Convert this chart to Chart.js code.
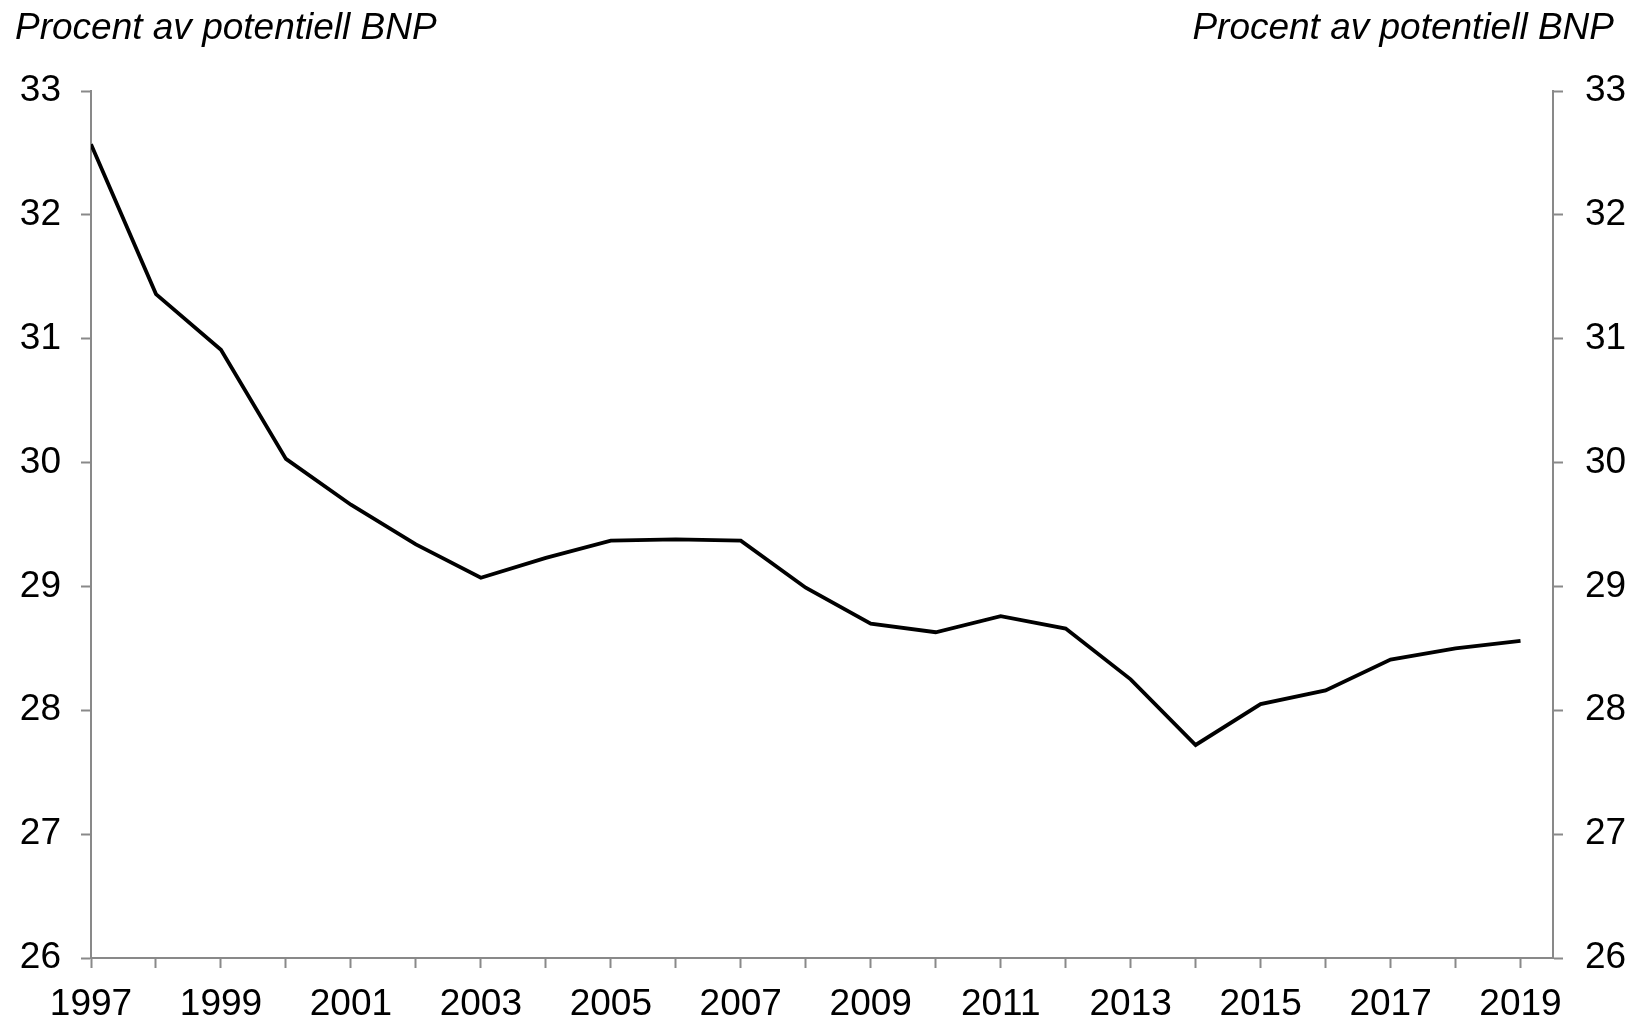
<!DOCTYPE html>
<html>
<head>
<meta charset="utf-8">
<script src="https://cdn.jsdelivr.net/npm/chart.js@4/dist/chart.umd.min.js"></script>
<style>
  html, body { margin: 0; padding: 0; background: #ffffff; }
  #wrap { position: relative; width: 1637px; height: 1021px; }
  canvas { display: block; }
</style>
</head>
<body>
<div id="wrap"><canvas id="c" width="1637" height="1021"></canvas></div>
<script>
const years = [1997, 1998, 1999, 2000, 2001, 2002, 2003, 2004, 2005, 2006, 2007, 2008,
               2009, 2010, 2011, 2012, 2013, 2014, 2015, 2016, 2017, 2018, 2019];
const values = [32.57, 31.36, 30.91, 30.03, 29.66, 29.34, 29.07, 29.23, 29.37, 29.38, 29.37, 28.99,
                28.70, 28.63, 28.76, 28.66, 28.25, 27.72, 28.05, 28.16, 28.41, 28.50, 28.56];
const yTicks = [26, 27, 28, 29, 30, 31, 32, 33];
const axisTitle = "Procent av potentiell BNP";

const AXIS_GRAY = '#898989';
const FONT = '"Liberation Sans", Arial, sans-serif';
const FSIZE = 37;

const titlePlugin = {
  id: 'titles',
  afterDraw(chart) {
    const ctx = chart.ctx;
    ctx.save();
    ctx.fillStyle = '#000';
    ctx.font = 'italic ' + FSIZE + 'px ' + FONT;
    ctx.textBaseline = 'alphabetic';
    ctx.textAlign = 'left';
    ctx.fillText(axisTitle, 15, 39);
    ctx.textAlign = 'right';
    ctx.fillText(axisTitle, 1614, 39);
    ctx.restore();
  }
};

const yAxisCommon = {
  type: 'linear',
  min: yTicks[0],
  max: yTicks[yTicks.length - 1],
  bounds: 'data',
  afterBuildTicks: (s) => { s.ticks = yTicks.map(v => ({ value: v })); },
  grid: { drawOnChartArea: false, drawTicks: true, tickLength: 10, tickColor: AXIS_GRAY, tickWidth: 2 },
  border: { display: true, color: AXIS_GRAY, width: 2 },
  ticks: { color: '#000', font: { family: FONT, size: FSIZE }, padding: 20 }
};

new Chart(document.getElementById('c'), {
  type: 'line',
  data: {
    datasets: [{
      data: years.map((y, i) => ({ x: y, y: values[i] })),
      borderColor: '#000',
      borderWidth: 3.8,
      pointRadius: 0,
      tension: 0,
      fill: false,
      yAxisID: 'y'
    }]
  },
  options: {
    responsive: false,
    animation: false,
    plugins: { legend: { display: false }, tooltip: { enabled: false }, title: { display: false } },
    layout: { padding: { top: 91, left: 0, right: 0, bottom: 0 } },
    scales: {
      x: {
        type: 'linear',
        min: years[0],
        max: years[years.length - 1] + 0.5,
        bounds: 'data',
        afterBuildTicks: (s) => { s.ticks = years.map(v => ({ value: v })); },
        afterFit: (s) => { s.height = 63; },
        grid: { drawOnChartArea: false, drawTicks: true, tickLength: 10, tickColor: AXIS_GRAY, tickWidth: 2 },
        border: { display: true, color: AXIS_GRAY, width: 2 },
        ticks: {
          autoSkip: false, maxRotation: 0, minRotation: 0,
          color: '#000', font: { family: FONT, size: FSIZE }, padding: 15,
          callback: (v) => ((v - years[0]) % 2 === 0 ? String(v) : '')
        }
      },
      y: Object.assign({}, yAxisCommon, {
        position: 'left',
        afterFit: (s) => { s.width = 91; }
      }),
      y2: Object.assign({}, yAxisCommon, {
        position: 'right',
        afterFit: (s) => { s.width = 84; },
        ticks: { color: '#000', font: { family: FONT, size: FSIZE }, padding: 22 }
      })
    }
  },
  plugins: [titlePlugin]
});
</script>
</body>
</html>
